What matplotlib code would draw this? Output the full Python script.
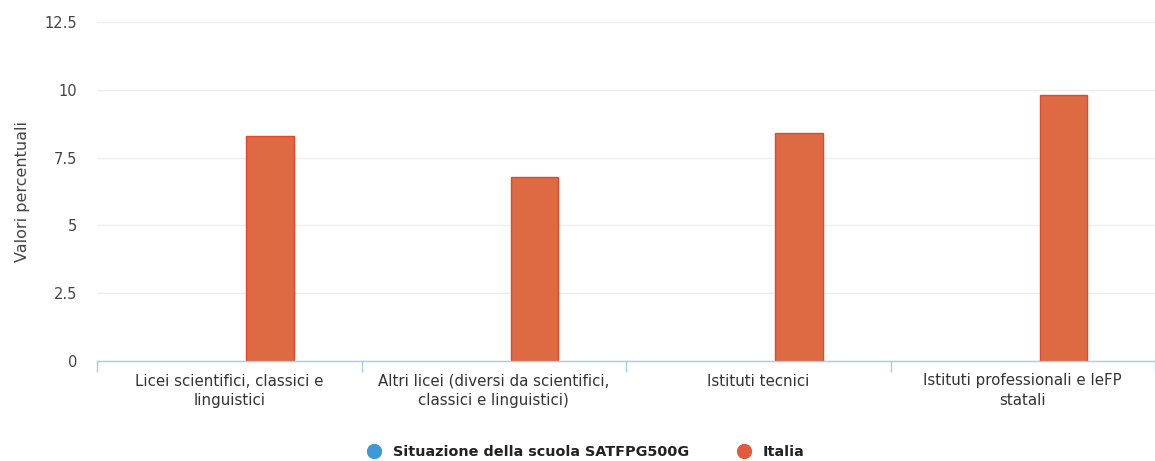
import numpy as np
import matplotlib.pyplot as plt
from matplotlib.lines import Line2D

# data
categorie = [
    "Licei scientifici, classici e\nlinguistici",
    "Altri licei (diversi da scientifici,\nclassici e linguistici)",
    "Istituti tecnici",
    "Istituti professionali e IeFP\nstatali",
]
scuola = [np.nan, np.nan, np.nan, np.nan]  # no values shown for the school
italia = [8.3, 6.8, 8.4, 9.8]
y_ticks = [0, 2.5, 5, 7.5, 10, 12.5]
y_tick_labels = ["0", "2.5", "5", "7.5", "10", "12.5"]

col_scuola = "#3d9ad6"
col_italia = "#de6a43"
col_axis = "#9fd0ea"

fig = plt.figure(figsize=(11.55, 4.61), dpi=100)
W, H = 1155, 461
ax = fig.add_axes([97 / W, 1 - 361 / H, (W - 97) / W, (361 - 22) / H])

x = np.arange(len(categorie))
bw = 0.18
off = 0.154
ax.bar(x - off, scuola, bw, color=col_scuola)
ax.bar(x + off, italia, bw, color=col_italia, edgecolor="#e8442a", linewidth=1)

ax.set_xlim(-0.5, 3.46)
ax.set_ylim(0, 12.5)
ax.set_yticks(y_ticks)
ax.set_yticklabels(y_tick_labels)
ax.tick_params(axis="y", length=0, pad=14, labelsize=10.5, labelcolor="#444444")
ax.grid(axis="y", color="#ededed", linewidth=1)
ax.set_axisbelow(True)

# category boundaries as tick marks, names centred in between
ax.set_xticks(np.arange(-0.5, 4, 1))
ax.set_xticklabels([])
ax.tick_params(axis="x", which="major", length=8, width=1, color=col_axis)
ax.set_xticks(x, minor=True)
ax.set_xticklabels(categorie, minor=True, linespacing=1.4)
ax.tick_params(axis="x", which="minor", length=0, pad=9, labelsize=10.8, labelcolor="#333333")

for s in ["top", "right", "left"]:
    ax.spines[s].set_visible(False)
ax.spines["bottom"].set_color(col_axis)
ax.spines["bottom"].set_linewidth(1)

ax.set_ylabel("Valori percentuali", fontsize=11.5, color="#444444", labelpad=11)

handles = [
    Line2D([], [], marker="o", linestyle="none", markersize=10, color=col_scuola),
    Line2D([], [], marker="o", linestyle="none", markersize=10, color="#e05a3e"),
]
leg = fig.legend(handles, ["Situazione della scuola SATFPG500G", "Italia"],
                 loc="center", bbox_to_anchor=(582 / W, 1 - 452 / H), ncol=2,
                 frameon=False, handletextpad=0.3, columnspacing=2.8,
                 prop={"weight": "bold", "size": 10.4})
for t in leg.get_texts():
    t.set_color("#222222")

fig.savefig("out.png", dpi=100)
